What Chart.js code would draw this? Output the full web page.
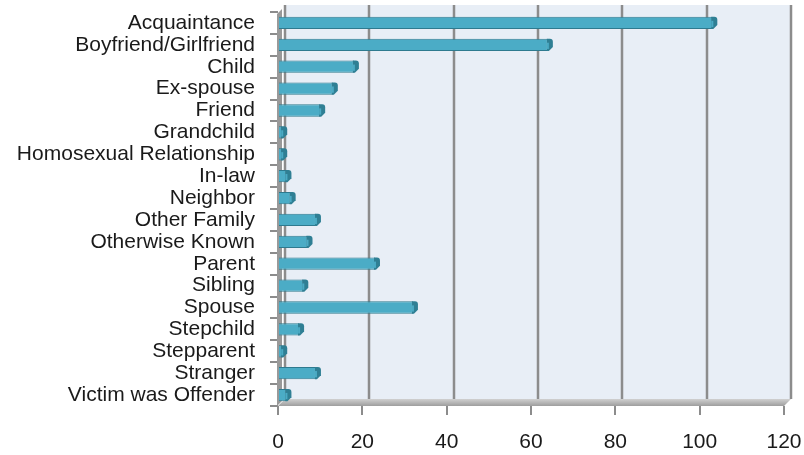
<!DOCTYPE html>
<html>
<head>
<meta charset="utf-8">
<script src="https://cdn.jsdelivr.net/npm/chart.js@4"></script>
<style>
html,body{margin:0;padding:0;background:#fff;}
#wrap{width:804px;height:455px;position:relative;}
</style>
</head>
<body>
<div id="wrap"><canvas id="c" width="804" height="455"></canvas></div>
<script>
const categories = ["Acquaintance","Boyfriend/Girlfriend","Child","Ex-spouse","Friend","Grandchild","Homosexual Relationship","In-law","Neighbor","Other Family","Otherwise Known","Parent","Sibling","Spouse","Stepchild","Stepparent","Stranger","Victim was Offender"];
const counts = [103,64,18,13,10,1,1,2,3,9,7,23,6,32,5,1,9,2];
const xTicks = [0,20,40,60,80,100,120];

const FONT = "'Liberation Sans', Arial, sans-serif";
const DX = 7, DY = 7;

const deco = {
  id: 'deco',
  beforeDatasetsDraw(chart) {
    const {ctx, chartArea: a, scales: {x}} = chart;
    ctx.save();
    ctx.fillStyle = '#e8eef6';
    ctx.fillRect(a.left + DX, a.top - DY, a.right - a.left, a.bottom - a.top);
    ctx.strokeStyle = '#8c8c8c';
    ctx.lineWidth = 2.5;
    xTicks.forEach(v => {
      const px = Math.round(x.getPixelForValue(v)) + DX;
      ctx.beginPath();
      ctx.moveTo(px, a.top - DY);
      ctx.lineTo(px, a.bottom - DY);
      ctx.stroke();
    });
    const g = ctx.createLinearGradient(0, a.bottom - DY, 0, a.bottom);
    g.addColorStop(0, '#d0d0d0'); g.addColorStop(1, '#9e9e9e');
    ctx.fillStyle = g;
    ctx.beginPath();
    ctx.moveTo(a.left + DX, a.bottom - DY);
    ctx.lineTo(a.right + DX, a.bottom - DY);
    ctx.lineTo(a.right, a.bottom);
    ctx.lineTo(a.left, a.bottom);
    ctx.closePath();
    ctx.fill();
    ctx.fillStyle = '#999999';
    ctx.beginPath();
    ctx.moveTo(a.left - 1, a.top + 2);
    ctx.lineTo(a.left + 4, a.top - 3);
    ctx.lineTo(a.left + 4, a.bottom - 5);
    ctx.lineTo(a.left - 1, a.bottom);
    ctx.closePath();
    ctx.fill();
    ctx.restore();
  },
  afterDatasetsDraw(chart) {
    const {ctx} = chart;
    const meta = chart.getDatasetMeta(0);
    ctx.save();
    meta.data.forEach(bar => {
      const h = bar.height;
      const top = bar.y - h / 2;
      const x = bar.x;
      // side face (3D depth) at the bar end
      ctx.fillStyle = '#2f7f94';
      ctx.beginPath();
      ctx.moveTo(x - 1, top);
      ctx.lineTo(x + 2, top);
      ctx.quadraticCurveTo(x + 5, top, x + 5, top + 3);
      ctx.lineTo(x + 5, top + h - 4);
      ctx.lineTo(x + 1, top + h);
      ctx.lineTo(x - 1, top + h);
      ctx.closePath();
      ctx.fill();
      ctx.fillStyle = '#4aaac4';
      ctx.fillRect(x - 1, top + 4, 2, h - 6);
    });
    ctx.restore();
  }
};

new Chart(document.getElementById('c'), {
  type: 'bar',
  data: {
    labels: categories,
    datasets: [{
      data: counts,
      backgroundColor: (c) => {
        const el = c.element;
        const ch = c.chart;
        if (!el || el.y === undefined || !isFinite(el.y)) return '#4bacc6';
        const h = el.height || 12;
        const g = ch.ctx.createLinearGradient(0, el.y - h/2, 0, el.y + h/2);
        g.addColorStop(0, '#2f7b90');
        g.addColorStop(0.22, '#31829a');
        g.addColorStop(0.3, '#4bacc6');
        g.addColorStop(0.6, '#52b2cb');
        g.addColorStop(0.88, '#46a6c0');
        g.addColorStop(1, '#2f7f94');
        return g;
      },
      borderColor: '#2e7a8f',
      borderWidth: 1,
      borderSkipped: 'start',
      categoryPercentage: 0.56,
      barPercentage: 1.0
    }]
  },
  options: {
    indexAxis: 'y',
    responsive: false,
    animation: false,
    layout: {padding: {left: 0, right: 20, top: 12, bottom: 0}},
    plugins: {legend: {display: false}, tooltip: {enabled: false}},
    scales: {
      x: {
        min: 0, max: 120,
        afterBuildTicks: (s) => { s.ticks = xTicks.map(v => ({value: v})); },
        afterFit: (s) => { s.height = 49; s.paddingLeft = 0; s.paddingRight = 0; },
        grid: {drawOnChartArea: false, drawTicks: true, tickLength: 9, tickColor: '#8c8c8c', lineWidth: 2},
        border: {display: false},
        ticks: {color: '#1a1a1a', font: {family: FONT, size: 21}, padding: 15}
      },
      y: {
        afterFit: (s) => { s.width = 278; s.paddingTop = 0; s.paddingBottom = 0; },
        grid: {display: true, drawOnChartArea: false, drawTicks: true, tickLength: 8, tickColor: '#8c8c8c', lineWidth: 2, offset: true},
        border: {display: false},
        ticks: {color: '#1a1a1a', font: {family: FONT, size: 21}, padding: 15, autoSkip: false}
      }
    }
  },
  plugins: [deco]
});
</script>
</body>
</html>
